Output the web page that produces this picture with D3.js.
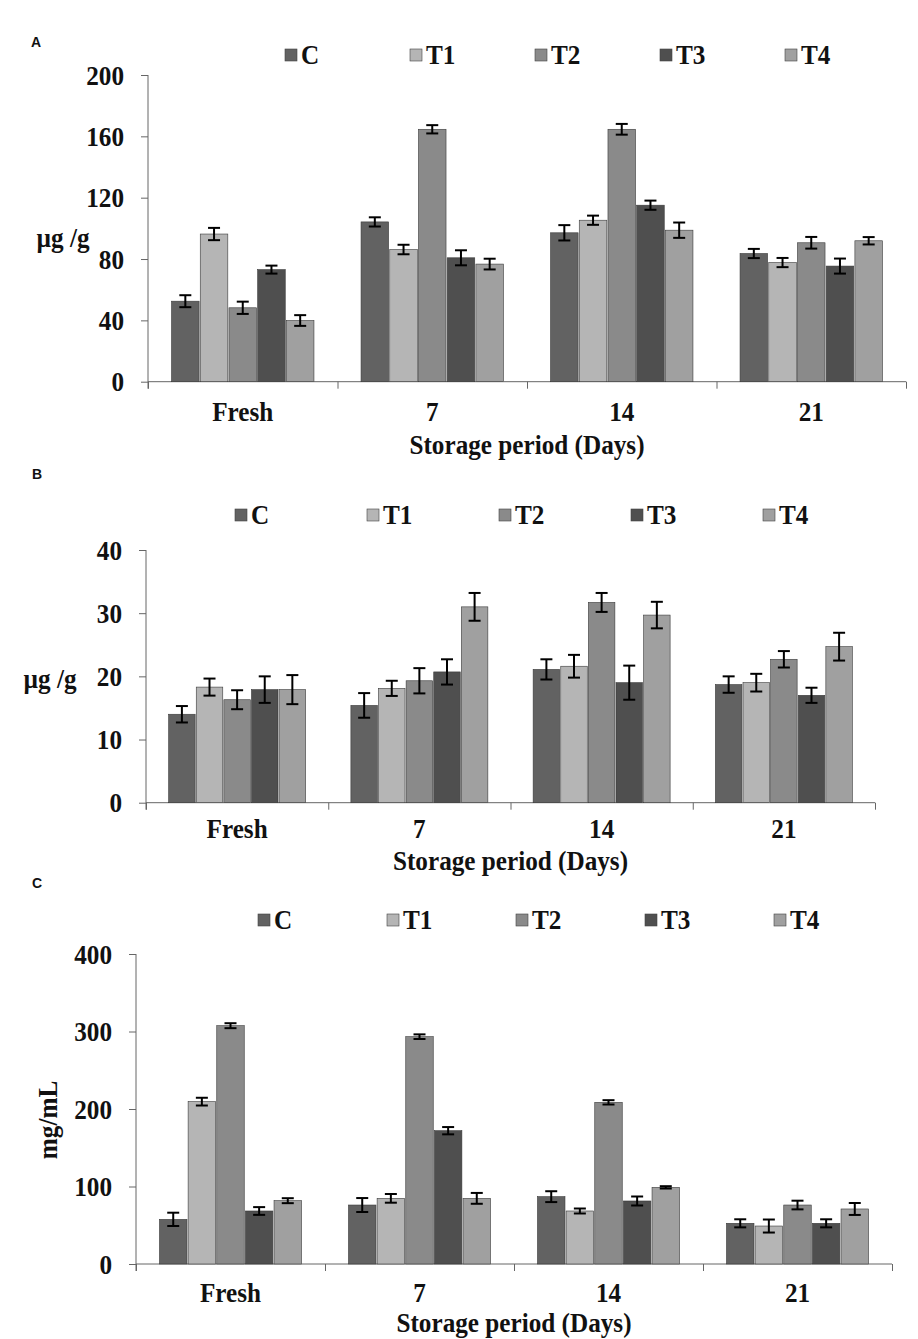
<!DOCTYPE html>
<html>
<head>
<meta charset="utf-8">
<script src="https://cdn.jsdelivr.net/npm/d3@7"></script>
<style>
  body { margin: 0; background: #fff; }
  svg text { font-family: "Liberation Serif", "Times New Roman", serif; font-weight: bold; fill: #111; }
  .panel-letter { font-family: "Liberation Sans", Arial, sans-serif !important; font-size: 14px; }
</style>
</head>
<body>
<svg width="918" height="1339"></svg>
<script>
let days = ['Fresh', '7', '14', '21']
let series = ['C', 'T1', 'T2', 'T3', 'T4']
let colors = ['#626262', '#b5b5b5', '#8a8a8a', '#4f4f4f', '#a0a0a0']

// panel A: µg/g
let valuesA = [
    [52.5, 96.3, 48.2, 73.1, 39.9],
    [104.2, 86.2, 164.6, 80.8, 76.7],
    [97.1, 105.3, 164.6, 115.1, 98.8],
    [83.6, 77.7, 90.6, 75.4, 91.9]
]
let errorsA = [
    [3.9, 4.0, 4.0, 2.6, 3.5],
    [3.0, 3.1, 2.7, 4.9, 3.5],
    [5.0, 3.0, 3.5, 3.0, 5.0],
    [3.0, 3.0, 3.8, 4.9, 2.4]
]
let ticksA = [0, 40, 80, 120, 160, 200]

// panel B: µg/g
let valuesB = [
    [14.0, 18.3, 16.3, 17.9, 17.9],
    [15.4, 18.1, 19.3, 20.7, 31.0],
    [21.1, 21.6, 31.7, 19.0, 29.7],
    [18.7, 19.0, 22.7, 17.0, 24.7]
]
let errorsB = [
    [1.3, 1.35, 1.5, 2.1, 2.3],
    [1.95, 1.2, 2.0, 2.0, 2.2],
    [1.6, 1.8, 1.5, 2.7, 2.1],
    [1.3, 1.4, 1.3, 1.2, 2.2]
]
let ticksB = [0, 10, 20, 30, 40]

// panel C: mg/mL
let valuesC = [
    [57.6, 209.5, 307.5, 68.4, 81.7],
    [76.1, 84.7, 293.3, 172, 84.7],
    [86.9, 68.4, 208.6, 81.3, 98.9],
    [52.5, 49, 76.1, 52.5, 71]
]
let errorsC = [
    [8.6, 5.0, 3.2, 5.0, 3.2],
    [9.0, 5.6, 3.0, 4.7, 7.0],
    [7.0, 3.2, 2.8, 5.8, 1.5],
    [5.2, 8.4, 5.6, 5.2, 7.7]
]
let ticksC = [0, 100, 200, 300, 400]

let svg = d3.select('svg')
let sx = 0.9  // horizontal squeeze of the serif text

function drawPanel(p) {
    let g = svg.append('g')
    let x0 = d3.scaleBand().domain(days).range([p.left, p.right]).padding(0)
    let x1 = d3.scaleBand().domain(series).range([0, x0.bandwidth()])
        .paddingOuter(0.82).paddingInner(0.04)
    let y = d3.scaleLinear().domain([0, p.max]).range([p.bottom, p.top])

    // y axis
    let ya = g.append('g')
        .attr('transform', `translate(${p.left},0)`)
        .call(d3.axisLeft(y).tickValues(p.ticks).tickSize(7).tickSizeOuter(0))
    ya.select('.domain').attr('stroke', '#666').attr('d', `M0,${p.top}V${p.bottom + 7}`)
    ya.selectAll('.tick line').attr('stroke', '#666')
    ya.selectAll('.tick text')
        .attr('x', -24 / sx).attr('dy', '0.33em')
        .attr('transform', `scale(${sx},1)`)
        .style('font-size', '28px')

    // x axis line with boundary ticks
    let xb = d3.scaleLinear().domain([0, days.length]).range([p.left, p.right])
    let xa = g.append('g')
        .attr('transform', `translate(0,${p.bottom})`)
        .call(d3.axisBottom(xb).tickValues(d3.range(days.length + 1)).tickSize(7).tickFormat(''))
    xa.select('.domain').attr('stroke', '#666').attr('d', `M${p.left},0H${p.right}`)
    xa.selectAll('.tick line').attr('stroke', '#666')

    // category labels
    let xl = g.append('g')
        .attr('transform', `translate(0,${p.bottom})`)
        .call(d3.axisBottom(x0).tickSize(0))
    xl.select('.domain').remove()
    xl.selectAll('.tick text')
        .attr('y', p.catDy).attr('dy', '0.35em')
        .attr('transform', `scale(${sx},1)`)
        .style('font-size', '28px')

    // bars
    let rows = []
    p.values.forEach((row, i) => row.forEach((v, j) => {
        rows.push({day: days[i], s: series[j], v: v, e: p.errors[i][j], c: colors[j]})
    }))

    g.selectAll('rect.bar')
        .data(rows)
        .join('rect')
        .attr('class', 'bar')
        .attr('x', d => x0(d.day) + x1(d.s))
        .attr('y', d => y(d.v))
        .attr('width', x1.bandwidth())
        .attr('height', d => y(0) - y(d.v))
        .attr('fill', d => d.c)
        .attr('stroke', '#3a3a3a')
        .attr('stroke-width', 0.6)

    // error bars
    let eb = g.selectAll('g.err')
        .data(rows)
        .join('g')
        .attr('class', 'err')
        .attr('transform', d => `translate(${x0(d.day) + x1(d.s) + x1.bandwidth() / 2},0)`)
    eb.append('line')
        .attr('y1', d => y(d.v + d.e)).attr('y2', d => y(d.v - d.e))
        .attr('stroke', '#000').attr('stroke-width', 2)
    eb.append('line')
        .attr('x1', -6).attr('x2', 6)
        .attr('y1', d => y(d.v + d.e)).attr('y2', d => y(d.v + d.e))
        .attr('stroke', '#000').attr('stroke-width', 2)
    eb.append('line')
        .attr('x1', -6).attr('x2', 6)
        .attr('y1', d => y(d.v - d.e)).attr('y2', d => y(d.v - d.e))
        .attr('stroke', '#000').attr('stroke-width', 2)

    // legend
    let lg = g.selectAll('g.legend')
        .data(series)
        .join('g')
        .attr('class', 'legend')
        .attr('transform', (d, i) => `translate(${p.legX + i * p.legStep},${p.legY})`)
    lg.append('rect')
        .attr('x', 0).attr('y', -6).attr('width', 12).attr('height', 12)
        .attr('fill', (d, i) => colors[i])
        .attr('stroke', '#444').attr('stroke-width', 0.6)
    lg.append('text')
        .attr('x', 16 / sx).attr('dy', '0.33em')
        .attr('transform', `scale(${sx},1)`)
        .style('font-size', '28px')
        .text(d => d)

    // axis titles
    g.append('text')
        .attr('transform', `translate(${(p.left + p.right) / 2},${p.titleY}) scale(${sx},1)`)
        .attr('text-anchor', 'middle').attr('dy', '0.35em')
        .style('font-size', '28px')
        .text('Storage period (Days)')

    g.append('text')
        .attr('transform', `translate(${p.ylabX},${p.ylabY}) rotate(${p.ylabRot}) scale(${sx},1)`)
        .attr('text-anchor', 'middle').attr('dy', '0.35em')
        .style('font-size', '28px')
        .text(p.unit)

    g.append('text')
        .attr('class', 'panel-letter')
        .attr('x', p.letterX).attr('y', p.letterY)
        .attr('text-anchor', 'middle').attr('dy', '0.35em')
        .text(p.letter)
}

drawPanel({letter: 'A', letterX: 36, letterY: 42, values: valuesA, errors: errorsA, ticks: ticksA, max: 200,
    left: 148, right: 906, top: 75, bottom: 381.7, catDy: 30, titleY: 444,
    legX: 285, legStep: 125, legY: 55, unit: 'µg /g', ylabX: 63, ylabY: 237, ylabRot: 0})

drawPanel({letter: 'B', letterX: 37, letterY: 474, values: valuesB, errors: errorsB, ticks: ticksB, max: 40,
    left: 146, right: 875, top: 550, bottom: 802.7, catDy: 26, titleY: 860,
    legX: 235, legStep: 132, legY: 515, unit: 'µg /g', ylabX: 50, ylabY: 678, ylabRot: 0})

drawPanel({letter: 'C', letterX: 37, letterY: 883, values: valuesC, errors: errorsC, ticks: ticksC, max: 400,
    left: 136, right: 892, top: 954, bottom: 1264, catDy: 28, titleY: 1322,
    legX: 258, legStep: 129, legY: 920, unit: 'mg/mL', ylabX: 47, ylabY: 1120, ylabRot: -90})
</script>
</body>
</html>
